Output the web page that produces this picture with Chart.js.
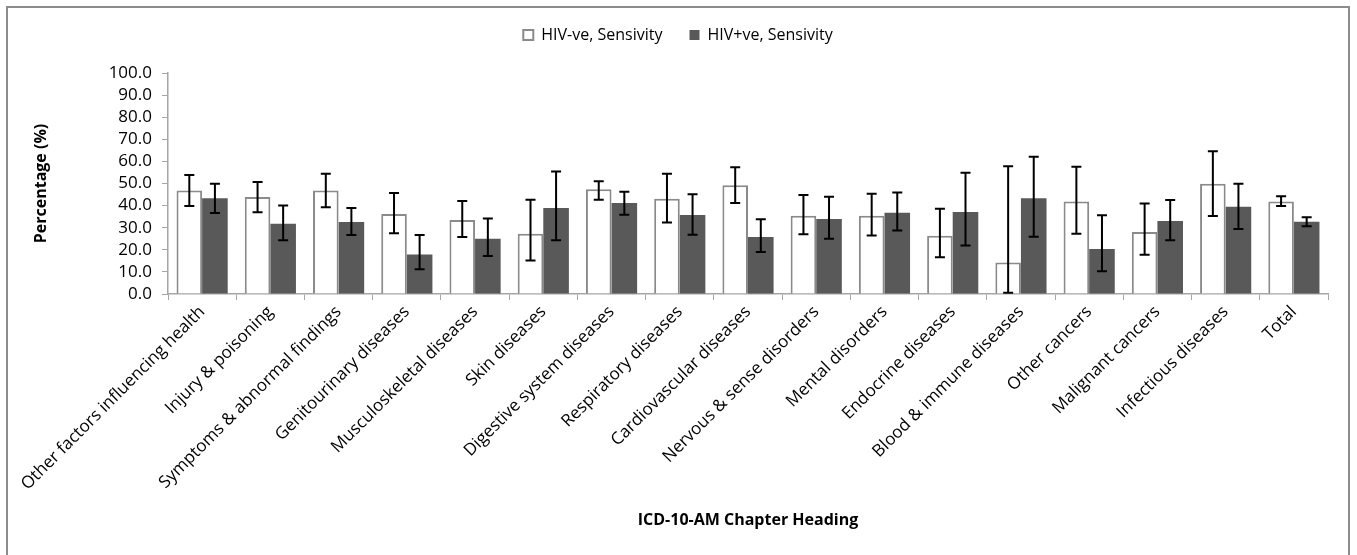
<!DOCTYPE html>
<html>
<head>
<meta charset="utf-8">
<script src="https://cdn.jsdelivr.net/npm/chart.js@4"></script>
<style>
  html, body { margin: 0; padding: 0; background: #fff; overflow: hidden; }
  #frame {
    position: absolute; left: 6px; top: 6px;
    width: 1344px; height: 560px;
    border: 2px solid #8c8c8c; border-bottom: none; box-sizing: border-box;
  }
  #chart { display: block; }
</style>
</head>
<body>
<div id="frame"><canvas id="chart" width="1340" height="538"></canvas></div>
<script>
const categories = [
  'Other factors influencing health', 'Injury & poisoning', 'Symptoms & abnormal findings',
  'Genitourinary diseases', 'Musculoskeletal diseases', 'Skin diseases',
  'Digestive system diseases', 'Respiratory diseases', 'Cardiovascular diseases',
  'Nervous & sense disorders', 'Mental disorders', 'Endocrine diseases',
  'Blood & immune diseases', 'Other cancers', 'Malignant cancers',
  'Infectious diseases', 'Total'
];

// HIV-ve sensitivity with 95% CI
const hivNeg     = [46.8, 43.9, 46.8, 36.2, 33.5, 27.3, 47.4, 43.1, 49.2, 35.4, 35.4, 26.4, 14.3, 41.8, 28.1, 49.9, 41.9];
const hivNegLow  = [39.8, 37.0, 39.2, 27.5, 25.8, 15.2, 42.7, 32.3, 41.2, 27.0, 26.5, 16.6,  0.6, 27.3, 17.8, 35.3, 39.8];
const hivNegHigh = [53.8, 50.7, 54.4, 45.7, 42.1, 42.7, 51.0, 54.4, 57.3, 44.8, 45.4, 38.6, 57.8, 57.6, 40.9, 64.6, 44.2];

// HIV+ve sensitivity with 95% CI
const hivPos     = [43.3, 31.8, 32.6, 17.9, 25.0, 38.9, 41.2, 35.7, 25.8, 33.9, 36.8, 37.1, 43.3, 20.4, 33.0, 39.5, 32.7];
const hivPosLow  = [36.7, 24.3, 26.7, 11.2, 17.2, 24.3, 35.9, 26.8, 19.0, 25.0, 28.7, 21.9, 25.9, 10.3, 24.3, 29.4, 30.6];
const hivPosHigh = [49.9, 40.0, 38.9, 26.7, 34.2, 55.4, 46.3, 45.1, 33.8, 44.0, 45.9, 54.9, 62.1, 35.6, 42.5, 49.9, 34.7];

const yTicks = [0, 10, 20, 30, 40, 50, 60, 70, 80, 90, 100];

const FONT = "'Open Sans', 'Liberation Sans', sans-serif";
const axisGrey = '#a6a6a6';

// draw the confidence intervals on top of each bar
const errorBars = {
  id: 'errorBars',
  afterDatasetsDraw(chart) {
    const c = chart.ctx;
    const y = chart.scales.y;
    const ranges = [[hivNegLow, hivNegHigh], [hivPosLow, hivPosHigh]];
    c.save();
    c.strokeStyle = '#000';
    c.lineWidth = 2;
    chart.data.datasets.forEach((ds, di) => {
      const meta = chart.getDatasetMeta(di);
      meta.data.forEach((bar, i) => {
        const top = y.getPixelForValue(ranges[di][1][i]);
        const bot = y.getPixelForValue(ranges[di][0][i]);
        const x = bar.x;
        c.beginPath();
        c.moveTo(x, top); c.lineTo(x, bot);
        c.moveTo(x - 5, top); c.lineTo(x + 5, top);
        c.moveTo(x - 5, bot); c.lineTo(x + 5, bot);
        c.stroke();
      });
    });
    c.restore();
  }
};

// keep a gap between the legend and the plot
const legendGap = {
  id: 'legendGap',
  afterInit(chart) {
    const lg = chart.legend;
    if (!lg) return;
    const fit = lg.fit.bind(lg);
    lg.fit = function() { fit(); this.height = 73; };
  }
};

new Chart(document.getElementById('chart'), {
  type: 'bar',
  data: {
    labels: categories,
    datasets: [
      {
        label: 'HIV-ve, Sensivity',
        data: hivNeg,
        backgroundColor: '#ffffff',
        borderColor: '#8a8a8a',
        borderWidth: 2
      },
      {
        label: 'HIV+ve, Sensivity',
        data: hivPos,
        backgroundColor: '#595959',
        borderColor: '#595959',
        borderWidth: 0
      }
    ]
  },
  options: {
    responsive: false,
    animation: false,
    layout: { padding: { left: 20, right: 20, top: -8, bottom: 12 } },
    datasets: { bar: { categoryPercentage: 0.75, barPercentage: 1.0 } },
    plugins: {
      legend: {
        position: 'top',
        labels: {
          font: { family: FONT, size: 16 },
          color: '#000',
          boxWidth: 10,
          boxHeight: 10,
          padding: 27
        }
      },
      tooltip: { enabled: false }
    },
    scales: {
      x: {
        afterFit(scale) { scale.height = 240; },
        grid: { display: true, drawOnChartArea: false, drawTicks: true, tickLength: 6, color: axisGrey },
        border: { display: true, color: axisGrey, width: 1.5 },
        ticks: {
          autoSkip: false, minRotation: 45, maxRotation: 45,
          font: { family: FONT, size: 17 }, color: '#000', padding: 2
        },
        title: {
          display: true, text: 'ICD-10-AM Chapter Heading',
          font: { family: FONT, size: 16, weight: 'bold' }, color: '#000',
          padding: { top: 4, bottom: 4 }
        }
      },
      y: {
        min: 0, max: 100,
        afterFit(scale) { scale.width = 140; },
        afterBuildTicks(scale) { scale.ticks = yTicks.map(v => ({ value: v })); },
        grid: { display: true, drawOnChartArea: false, drawTicks: true, tickLength: 6, color: axisGrey },
        border: { display: true, color: axisGrey, width: 1.5 },
        ticks: {
          autoSkip: false,
          font: { family: FONT, size: 17 }, color: '#000', padding: 10,
          callback: v => Number(v).toFixed(1)
        },
        title: {
          display: true, text: 'Percentage (%)',
          font: { family: FONT, size: 16, weight: 'bold' }, color: '#000',
          padding: { top: 4, bottom: 0 }
        }
      }
    }
  },
  plugins: [errorBars, legendGap]
});
</script>
</body>
</html>
